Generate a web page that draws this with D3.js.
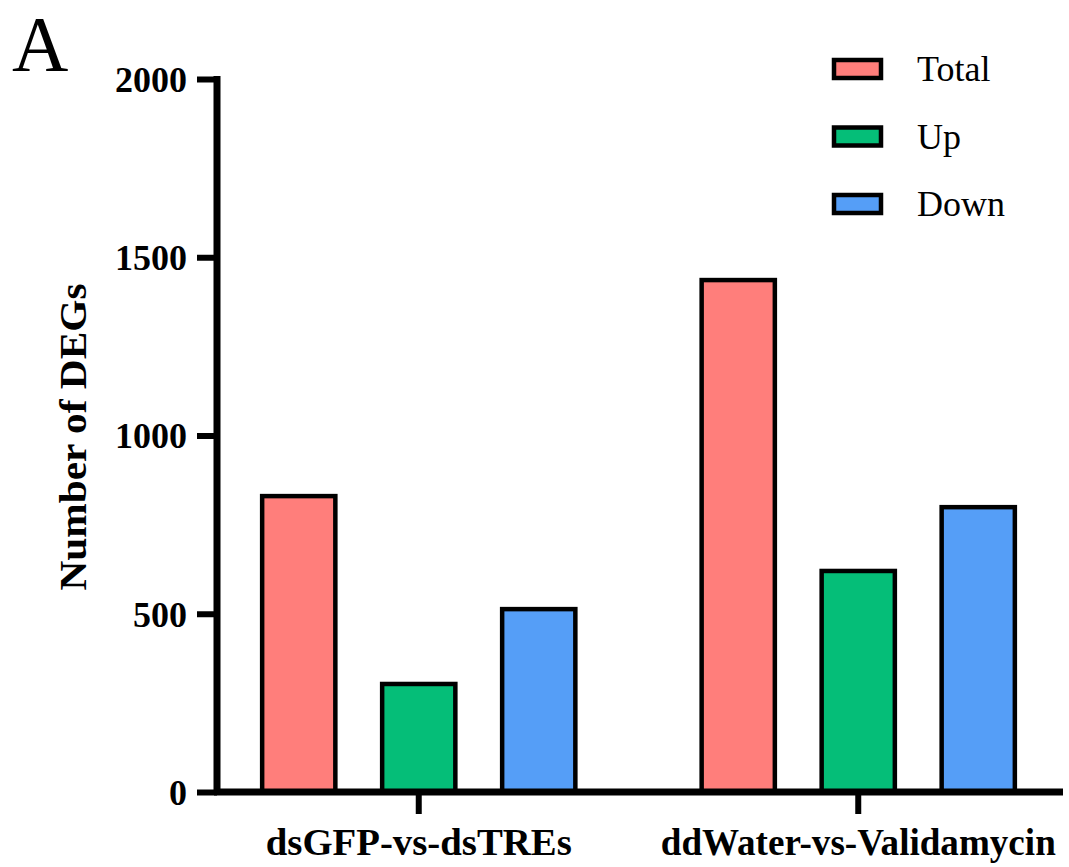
<!DOCTYPE html>
<html>
<head>
<meta charset="utf-8">
<script src="https://cdn.jsdelivr.net/npm/d3@7"></script>
<style>
  body { margin: 0; background: #fff; }
  svg { display: block; font-family: "Liberation Serif", "Times New Roman", serif; }
</style>
</head>
<body>
<svg id="chart" width="1069" height="867"></svg>
<script>
var groups = ["dsGFP-vs-dsTREs", "ddWater-vs-Validamycin"];
var series = ["Total", "Up", "Down"];
var totalVals = [830, 1436];
var upVals = [303, 620];
var downVals = [513, 799];
var colors = ["#FF7E7B", "#05BE78", "#559EF7"];
var yTicks = [0, 500, 1000, 1500, 2000];

var svg = d3.select("#chart");

var data = [];
groups.forEach(function(g, i) {
    data.push({ group: g, key: "Total", value: totalVals[i] });
    data.push({ group: g, key: "Up", value: upVals[i] });
    data.push({ group: g, key: "Down", value: downVals[i] });
});

var y = d3.scaleLinear().domain([0, 2000]).range([792, 79]);

var x0 = d3.scaleBand().domain(groups).range([199, 1078]);

var x1 = d3.scaleBand().domain(series)
    .range([-180, 180])
    .paddingInner(0.39)
    .paddingOuter(0.195);

var color = d3.scaleOrdinal().domain(series).range(colors);

// bars
svg.append("g")
    .selectAll("rect")
    .data(data)
    .enter().append("rect")
    .attr("x", function(d) { return x0(d.group) + x0.bandwidth() / 2 + x1(d.key); })
    .attr("y", function(d) { return y(d.value); })
    .attr("width", x1.bandwidth())
    .attr("height", function(d) { return y(0) - y(d.value); })
    .attr("fill", function(d) { return color(d.key); })
    .attr("stroke", "#000")
    .attr("stroke-width", 4.5);

// y axis
var yAxis = d3.axisLeft(y).tickValues(yTicks).tickFormat(d3.format("d")).tickSize(20).tickPadding(10);
var gy = svg.append("g")
    .attr("transform", "translate(217,0)")
    .call(yAxis);
gy.select(".domain")
    .attr("d", "M0," + (y(2000) - 3) + "V" + (y(0) + 3))
    .attr("stroke-width", 7);
gy.selectAll(".tick line").attr("stroke-width", 6);
gy.selectAll(".tick text")
    .attr("font-family", "Liberation Serif, serif")
    .attr("font-weight", "bold")
    .attr("font-size", 36)
    .attr("fill", "#000")
    .attr("dy", "0.34em");

// x axis
var xAxis = d3.axisBottom(x0).tickSize(22).tickPadding(10);
var gx = svg.append("g")
    .attr("transform", "translate(0," + y(0) + ")")
    .call(xAxis);
gx.select(".domain")
    .attr("d", "M214,0H1063")
    .attr("stroke-width", 7);
gx.selectAll(".tick line").attr("stroke-width", 6);
gx.selectAll(".tick text")
    .attr("font-family", "Liberation Serif, serif")
    .attr("font-weight", "bold")
    .attr("font-size", 37)
    .attr("fill", "#000")
    .attr("y", 0)
    .attr("dy", 0)
    .attr("transform", "translate(0,63)")
    .attr("textLength", function(d, i) { return i == 0 ? 306 : 395; })
    .attr("lengthAdjust", "spacingAndGlyphs");

// y title
svg.append("text")
    .attr("transform", "translate(86,437)rotate(-90)")
    .attr("text-anchor", "middle")
    .attr("font-weight", "bold")
    .attr("font-size", 38)
    .attr("textLength", 307)
    .attr("lengthAdjust", "spacingAndGlyphs")
    .text("Number of DEGs");

// panel letter
svg.append("text")
    .attr("x", 12)
    .attr("y", 70)
    .attr("font-size", 78)
    .text("A");

// legend
var legend = svg.append("g")
    .selectAll("g")
    .data(series)
    .enter().append("g")
    .attr("transform", function(d, i) { return "translate(834," + (60 + i * 67.5) + ")"; });

legend.append("rect")
    .attr("width", 47)
    .attr("height", 18)
    .attr("fill", function(d) { return color(d); })
    .attr("stroke", "#000")
    .attr("stroke-width", 4.5);

legend.append("text")
    .attr("x", 83)
    .attr("y", 21)
    .attr("font-size", 36)
    .text(function(d) { return d; });
</script>
</body>
</html>
